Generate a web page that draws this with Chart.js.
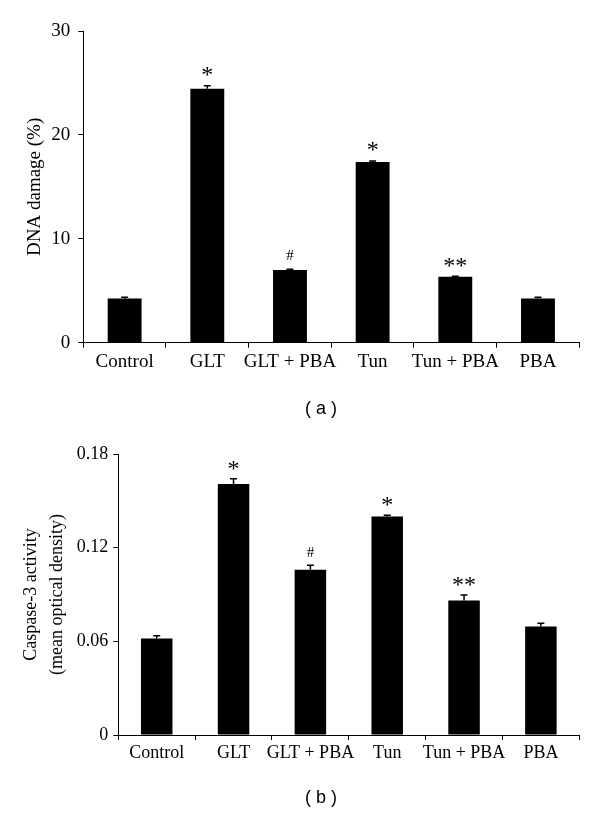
<!DOCTYPE html>
<html>
<head>
<meta charset="utf-8">
<script src="https://cdn.jsdelivr.net/npm/chart.js@4.4.0/dist/chart.umd.min.js"></script>
<style>
  body { margin: 0; background: #fff; }
  #wrap { position: relative; width: 600px; height: 814px; }
  canvas { position: absolute; left: 0; }
  .cap { position: absolute; width: 80px; text-align: center; font: 18px "Liberation Sans", Arial, sans-serif; color: #000; line-height: 20px; }
</style>
</head>
<body>
<div id="wrap">
  <canvas id="chartA" width="600" height="430" style="top:0"></canvas>
  <canvas id="chartB" width="600" height="384" style="top:430px"></canvas>
  <div class="cap" style="left:281px; top:398px">( a )</div>
  <div class="cap" style="left:281px; top:787px">( b )</div>
</div>
<script>
// groups on the x axis (same for both panels)
const groups = ["Control", "GLT", "GLT + PBA", "Tun", "Tun + PBA", "PBA"];

// panel (a): DNA damage (%)
const dnaDamage = [4.25, 24.45, 7.0, 17.4, 6.35, 4.25];
const dnaErr    = [0.12, 0.28, 0.08, 0.1, 0.05, 0.12];
const dnaMarks  = ["", "*", "#", "*", "**", ""];
const dnaTicks  = [0, 10, 20, 30];

// panel (b): caspase-3 activity
const caspase    = [0.0618, 0.1608, 0.1059, 0.1399, 0.0862, 0.0695];
const caspaseErr = [0.0017, 0.0033, 0.0028, 0.0009, 0.0034, 0.0021];
const caspaseMarks = ["", "*", "#", "*", "**", ""];
const caspaseTicks = [0, 0.06, 0.12, 0.18];

Chart.defaults.color = "#000";
Chart.defaults.font.family = '"Liberation Serif", "Times New Roman", serif';

// draws the upper error bars and the significance marks above them
function errorMarks(errs, marks, gap) {
  return {
    id: "errorMarks",
    afterDatasetsDraw(chart) {
      const ctx = chart.ctx;
      const xs = chart.scales.x, ys = chart.scales.y;
      const vals = chart.data.datasets[0].data;
      ctx.save();
      ctx.strokeStyle = "#000";
      ctx.fillStyle = "#000";
      ctx.lineWidth = 1.5;
      vals.forEach((v, i) => {
        const px = xs.getPixelForValue(i);
        const base = ys.getPixelForValue(v);
        const top = ys.getPixelForValue(v + errs[i]);
        ctx.beginPath();
        ctx.moveTo(px, base);
        ctx.lineTo(px, top);
        ctx.moveTo(px - 3.5, top);
        ctx.lineTo(px + 3.5, top);
        ctx.stroke();
        const m = marks[i];
        if (!m) return;
        ctx.font = m === "#" ? '15px "Liberation Serif"' : '24px "Liberation Serif"';
        ctx.textAlign = "center";
        ctx.textBaseline = "alphabetic";
        const tm = ctx.measureText(m);
        const cy = top - gap;
        ctx.fillText(m, px, cy + (tm.actualBoundingBoxAscent - tm.actualBoundingBoxDescent) / 2);
      });
      ctx.restore();
    }
  };
}

function makeChart(id, values, errs, marks, ticks, cfg) {
  const ctx = document.getElementById(id).getContext("2d");
  return new Chart(ctx, {
    type: "bar",
    data: {
      labels: groups,
      datasets: [{
        data: values,
        backgroundColor: "#000",
        borderWidth: 0,
        barPercentage: 0.41,
        categoryPercentage: 1
      }]
    },
    options: {
      responsive: false,
      maintainAspectRatio: false,
      animation: false,
      layout: { padding: { top: cfg.top, right: cfg.right, left: 0, bottom: 0 } },
      plugins: { legend: { display: false }, tooltip: { enabled: false } },
      scales: {
        x: {
          grid: { offset: true, drawOnChartArea: false, drawTicks: true, tickLength: 5, color: "#000", lineWidth: 1 },
          border: { color: "#000", width: 1 },
          ticks: { font: { size: cfg.font }, padding: cfg.xPad, maxRotation: 0, autoSkip: false },
          afterFit(scale) { scale.height = cfg.xHeight; }
        },
        y: {
          min: 0,
          max: ticks[ticks.length - 1],
          afterBuildTicks(scale) { scale.ticks = ticks.map(v => ({ value: v })); },
          grid: { drawOnChartArea: false, drawTicks: true, tickLength: 5, color: "#000", lineWidth: 1 },
          border: { color: "#000", width: 1 },
          ticks: { font: { size: cfg.font }, padding: cfg.yPad, callback: v => String(v) },
          title: {
            display: true,
            text: cfg.title,
            font: { size: cfg.font, lineHeight: cfg.titleLH },
            padding: { top: cfg.titlePad, bottom: 0 }
          },
          afterFit(scale) { scale.width = cfg.yWidth; }
        }
      }
    },
    plugins: [errorMarks(errs, marks, cfg.gap)]
  });
}

makeChart("chartA", dnaDamage, dnaErr, dnaMarks, dnaTicks, {
  top: 31, right: 20.7, font: 19, xPad: 3, xHeight: 87.3, yPad: 8, yWidth: 83.3,
  title: "DNA damage (%)", titleLH: 1.2, titlePad: 23.6, gap: 14
});

makeChart("chartB", caspase, caspaseErr, caspaseMarks, caspaseTicks, {
  top: 24, right: 20.7, font: 18, xPad: 2, xHeight: 79, yPad: 5, yWidth: 118.3,
  title: ["Caspase-3 activity", "(mean optical density)"], titleLH: 1.42, titlePad: 18.9, gap: 13.5
});
</script>
</body>
</html>
